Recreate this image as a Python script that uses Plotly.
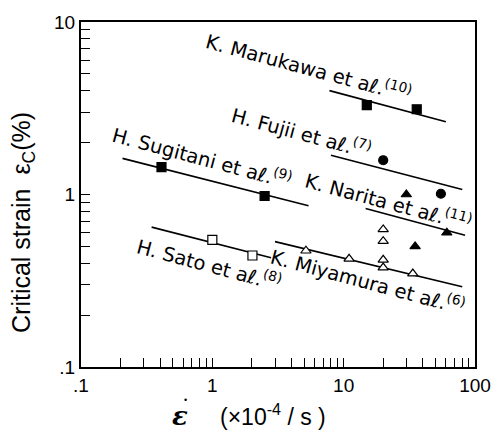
import math
import plotly.graph_objects as go

# ---- data (strain rate x10^-4/s, critical strain %) ----
marukawa_x = [15, 36]
marukawa_y = [3.3, 3.12]
marukawa_fit_x = [7.8, 60]
marukawa_fit_y = [4.0, 2.64]

fujii_x = [20, 55]
fujii_y = [1.58, 1.01]
fujii_fit_x = [8.0, 80]
fujii_fit_y = [1.69, 1.07]

narita_x = [30, 35, 61]
narita_y = [1.0, 0.5, 0.6]
narita_fit_x = [14.7, 84]
narita_fit_y = [0.83, 0.58]

sugitani_x = [0.41, 2.5]
sugitani_y = [1.44, 0.98]
sugitani_fit_x = [0.207, 5.4]
sugitani_fit_y = [1.62, 0.86]

sato_x = [1.0, 2.02]
sato_y = [0.546, 0.443]
sato_fit_x = [0.345, 2.8]
sato_fit_y = [0.647, 0.43]

miyamura_x = [5.16, 11, 20, 20, 20, 20, 33.6]
miyamura_y = [0.472, 0.424, 0.627, 0.536, 0.418, 0.377, 0.348]
miyamura_fit_x = [3.0, 80]
miyamura_fit_y = [0.533, 0.292]

label_texts = [
    "K. Marukawa et a<i>ℓ</i>.<sup>(10)</sup>",
    "H. Fujii et a<i>ℓ</i>.<sup>(7)</sup>",
    "H. Sugitani et a<i>ℓ</i>.<sup>(9)</sup>",
    "K. Narita et a<i>ℓ</i>.<sup>(11)</sup>",
    "H. Sato et a<i>ℓ</i>.<sup>(8)</sup>",
    "K. Miyamura et a<i>ℓ</i>.<sup>(6)</sup>",
]

x_tick_labels = [".1", "1", "10", "100"]
y_tick_labels = [".1", "1", "10"]
x_title_symbol = "<b><i>ε</i></b>"
x_title_unit = "(×10<sup>-4</sup> / s )"
y_title = "Critical strain  ε<sub>C</sub>(%)"

# ---- figure ----
FONT = "Liberation Sans, Arial, Helvetica, sans-serif"
LFONT = "DejaVu Sans, Liberation Sans, sans-serif"
fig = go.Figure()

def add_series(fx, fy, px, py, symbol, fill_white=False):
    fig.add_trace(go.Scatter(x=fx, y=fy, mode="lines",
                             line=dict(color="black", width=1.6),
                             showlegend=False, hoverinfo="skip"))
    fig.add_trace(go.Scatter(
        x=px, y=py, mode="markers", showlegend=False,
        marker=dict(symbol=symbol, size=9,
                    color="white" if fill_white else "black",
                    line=dict(color="black", width=1.2))))

add_series(marukawa_fit_x, marukawa_fit_y, marukawa_x, marukawa_y, "square")
add_series(fujii_fit_x, fujii_fit_y, fujii_x, fujii_y, "circle")
add_series(narita_fit_x, narita_fit_y, narita_x, narita_y, "triangle-up")
add_series(sugitani_fit_x, sugitani_fit_y, sugitani_x, sugitani_y, "square")
add_series(sato_fit_x, sato_fit_y, sato_x, sato_y, "square", fill_white=True)
add_series(miyamura_fit_x, miyamura_fit_y, miyamura_x, miyamura_y, "triangle-up", fill_white=True)

# label centres (data units; annotations on log axes take log10 values)
label_pos = [(5.4, 5.45), (4.75, 2.3), (0.83, 1.65), (21.8, 0.92), (0.95, 0.393), (15.4, 0.315)]
for txt, (lx, ly) in zip(label_texts, label_pos):
    fig.add_annotation(x=math.log10(lx), y=math.log10(ly), xref="x", yref="y", text=txt,
                       showarrow=False, textangle=15,
                       font=dict(family=LFONT, size=19.5, color="black"),
                       xanchor="center", yanchor="middle")

# axis titles as annotations (paper coords; plot area 81..481 x 15..367 px)
fig.add_annotation(x=-0.1475, y=0.42, xref="paper", yref="paper", text=y_title,
                   showarrow=False, textangle=-90,
                   font=dict(family=FONT, size=25, color="black"),
                   xanchor="center", yanchor="middle")
fig.add_annotation(x=(181 - 81) / 400, y=-(417 - 367) / 352, xref="paper", yref="paper",
                   text=x_title_symbol, showarrow=False,
                   font=dict(family="DejaVu Serif, serif", size=26, color="black"),
                   xanchor="center", yanchor="middle")
fig.add_annotation(x=(187 - 81) / 400, y=-(401 - 367) / 352, xref="paper", yref="paper",
                   text="•", showarrow=False,
                   font=dict(family=FONT, size=9, color="black"),
                   xanchor="center", yanchor="middle")
fig.add_annotation(x=(276 - 81) / 400, y=-(416 - 367) / 352, xref="paper", yref="paper",
                   text=x_title_unit, showarrow=False,
                   font=dict(family=FONT, size=23, color="black"),
                   xanchor="center", yanchor="middle")

def log_ticks(lo_exp, hi_exp):
    vals = []
    for e in range(lo_exp, hi_exp):
        for m in range(1, 10):
            vals.append(round(m * 10 ** e, 6))
    vals.append(10 ** hi_exp)
    return vals

xvals = log_ticks(-1, 2)
yvals = log_ticks(-1, 1)
x_major = [0.1, 1, 10, 100]
y_major = [0.1, 1, 10]
xtext = [x_tick_labels[x_major.index(v)] if v in x_major else "" for v in xvals]
ytext = [y_tick_labels[y_major.index(v)] if v in y_major else "" for v in yvals]

fig.update_xaxes(type="log", range=[-1, 2], tickmode="array", tickvals=xvals, ticktext=xtext,
                 ticks="inside", ticklen=9, tickwidth=1, tickcolor="black",
                 showline=True, linecolor="black", linewidth=2, mirror=True,
                 showgrid=False, zeroline=False,
                 tickfont=dict(family=FONT, size=19, color="black"))
fig.update_yaxes(type="log", range=[-1, 1], tickmode="array", tickvals=yvals, ticktext=ytext,
                 ticks="inside", ticklen=9, tickwidth=1, tickcolor="black",
                 showline=True, linecolor="black", linewidth=2, mirror=True,
                 showgrid=False, zeroline=False,
                 tickfont=dict(family=FONT, size=19, color="black"))

fig.update_layout(width=503, height=434, margin=dict(l=81, r=22, t=15, b=67),
                  paper_bgcolor="white", plot_bgcolor="white",
                  font=dict(family=FONT, color="black"))

fig.write_html("out.html")
